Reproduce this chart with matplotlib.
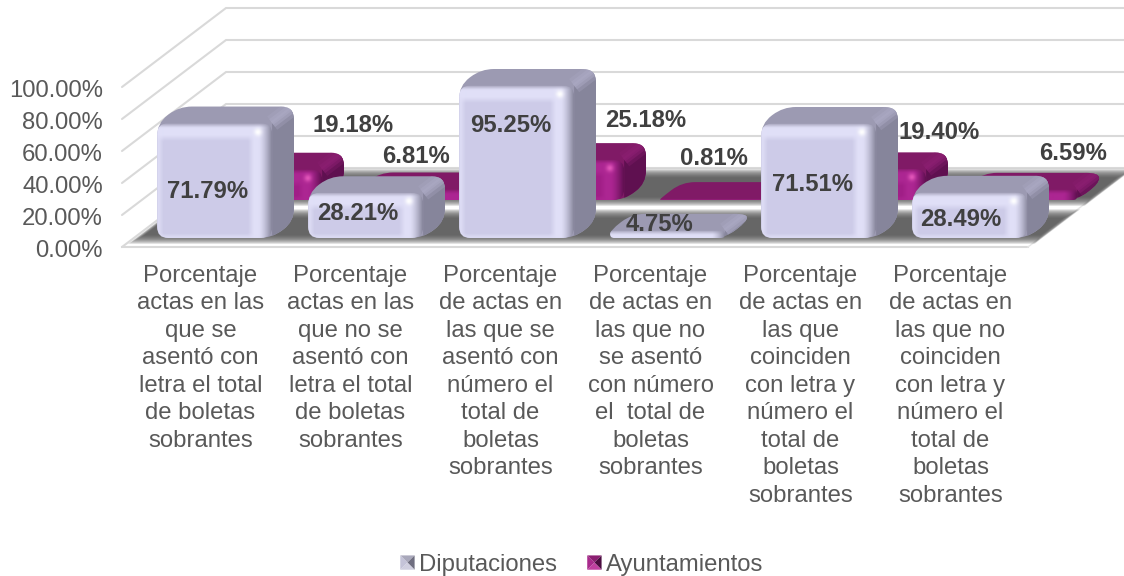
import numpy as np
import matplotlib
matplotlib.use("Agg")
import matplotlib.pyplot as plt
from matplotlib.patches import PathPatch, Polygon, Patch
from matplotlib.path import Path
from matplotlib.legend_handler import HandlerBase

plt.rcParams["font.family"] = ["Liberation Sans", "DejaVu Sans"]

categorias = [
    "Porcentaje\nactas en las\nque se\nasentó con\nletra el total\nde boletas\nsobrantes",
    "Porcentaje\nactas en las\nque no se\nasentó con\nletra el total\nde boletas\nsobrantes",
    "Porcentaje\nde actas en\nlas que se\nasentó con\nnúmero el\ntotal de\nboletas\nsobrantes",
    "Porcentaje\nde actas en\nlas que no\nse asentó\ncon número\nel  total de\nboletas\nsobrantes",
    "Porcentaje\nde actas en\nlas que\ncoinciden\ncon letra y\nnúmero el\ntotal de\nboletas\nsobrantes",
    "Porcentaje\nde actas en\nlas que no\ncoinciden\ncon letra y\nnúmero el\ntotal de\nboletas\nsobrantes",
]
diputaciones = [71.79, 28.21, 95.25, 4.75, 71.51, 28.49]
ayuntamientos = [19.18, 6.81, 25.18, 0.81, 19.40, 6.59]
ticks_y = [0, 20, 40, 60, 80, 100]

# pixels per unit on the fake 3D box
PX_X = 151.0
PX_Y = 1.6
X0 = 122.0
Y0 = 247.0
DX = 104.0 / PX_X
DY = 79.0 / PX_Y

ANCHO = 115.0 / PX_X
FONDO = 0.21
D_FRENTE = 0.114
D_ATRAS = 0.595
CORRIMIENTO = 0.035

# offset in pixels of each value label from the front top of its bar
off_dip = [(-7, -68), (-8, -21), (-6, -40), (-8, 6), (-6, -61), (-9, -27)]
off_ayu = [(88, 44), (0, 33), (79, 39), (-4, 40), (70, 36), (53, 36)]

GRIS = "#595959"
OSCURO = "#404040"

paleta_dip = dict(base=(205, 203, 232), luz=(224, 223, 247), borde=(134, 133, 155),
                  punto=(255, 255, 255), tapa="#9c9ab2", lado="#86859b", filo="#aba9c3")
paleta_ayu = dict(base=(160, 30, 135), luz=(172, 38, 146), borde=(95, 16, 80),
                  punto=(225, 85, 185), tapa="#801a66", lado="#5f1050", filo="#8c1f72")


def proyecta(x, v, d):
    return x + d * DX, v + d * DY


def redondeado(puntos, radio):
    # closed path with rounded corners, radius in pixels
    pts = np.array(puntos, dtype=float) * [PX_X, PX_Y]
    n = len(pts)
    verts = []
    codes = []
    for i in range(n):
        p = pts[i]
        a = pts[i - 1]
        b = pts[(i + 1) % n]
        la = np.hypot(*(a - p))
        lb = np.hypot(*(b - p))
        ra = min(radio, la / 2)
        rb = min(radio, lb / 2)
        ini = p + (a - p) / la * ra
        fin = p + (b - p) / lb * rb
        verts.append(ini)
        codes.append(Path.MOVETO if i == 0 else Path.LINETO)
        verts += [p, fin]
        codes += [Path.CURVE3, Path.CURVE3]
    verts.append(verts[0])
    codes.append(Path.CLOSEPOLY)
    return Path(np.array(verts) / [PX_X, PX_Y], codes)


def imagen_cara(ancho_px, alto_px, paleta):
    w = max(int(ancho_px), 2)
    h = max(int(alto_px) + 1, 2)
    xx, yy = np.meshgrid(np.arange(w) + 0.5, np.arange(h) + 0.5)
    der = w - xx
    arr = h - yy  # row 0 is the bottom, origin lower
    izq = xx
    img = np.ones((h, w, 3)) * np.array(paleta["base"], dtype=float)
    luz = np.array(paleta["luz"], dtype=float)
    borde = np.array(paleta["borde"], dtype=float)
    tapa = np.array(matplotlib.colors.to_rgb(paleta["tapa"])) * 255

    def mezcla(color, peso):
        nonlocal img
        img = img * (1 - peso[..., None]) + color * peso[..., None]

    mezcla(luz, np.clip((18 - arr) / 6, 0, 1))
    mezcla(luz, np.clip((24 - der) / 6, 0, 1))
    mezcla(luz, np.clip((7 - izq) / 6, 0, 0.8))
    mezcla(luz, np.clip((5 - yy) / 5, 0, 0.8))
    mezcla(borde, np.clip((13 - der) / 13, 0, 1) ** 1.4)
    mezcla(tapa, np.clip((5 - arr) / 5, 0, 1) ** 1.3)
    if h > 24:
        punto = np.exp(-(((der - 14) ** 2 + (arr - 9) ** 2) / 14.0))
        mezcla(np.array(paleta["punto"], dtype=float), punto)
    return img.clip(0, 255).astype(np.uint8)


def barra(ax, x, valor, d0, paleta, z):
    x0 = x - ANCHO / 2
    x1 = x + ANCHO / 2
    d1 = d0 + FONDO
    h = valor
    contorno = [proyecta(x0, 0, d0), proyecta(x0, h, d0), proyecta(x0, h, d1),
                proyecta(x1, h, d1), proyecta(x1, 0, d1), proyecta(x1, 0, d0)]
    ruta = redondeado(contorno, 13)
    silueta = PathPatch(ruta, fc=paleta["tapa"], ec="none", zorder=z)
    ax.add_patch(silueta)

    lado = Polygon([proyecta(x1, h, d0), proyecta(x1, h, d1),
                    proyecta(x1, 0, d1), proyecta(x1, 0, d0)],
                   fc=paleta["lado"], ec="none", zorder=z + 0.1)
    ax.add_patch(lado)
    lado.set_clip_path(silueta)

    filo_x, filo_y = zip(proyecta(x1, h, d0), proyecta(x1, h, d1))
    for grosor, alfa in [(12, 0.3), (7, 0.5), (3, 0.6)]:
        filo, = ax.plot(filo_x, filo_y, color=paleta["filo"], lw=grosor, alpha=alfa,
                        zorder=z + 0.2, solid_capstyle="butt")
        filo.set_clip_path(silueta)

    fx0, v0 = proyecta(x0, 0, d0)
    fx1, v1 = proyecta(x1, h, d0)
    cara = redondeado([(fx0, v0), (fx0, v1), (fx1, v1), (fx1, v0)], 11 if h > 12 else 4)
    clip = PathPatch(cara, fc="none", ec="none", transform=ax.transData)
    ax.add_patch(clip)
    img = imagen_cara((fx1 - fx0) * PX_X, (v1 - v0) * PX_Y, paleta)
    im = ax.imshow(img, origin="lower", extent=(fx0, fx1, v0, v1), aspect="auto",
                   interpolation="bilinear", zorder=z + 0.3)
    im.set_clip_path(clip)


def sombra(ax, d0, d1, x_fin):
    # soft floor shadow from stacked translucent polygons
    pasos = 12
    for i in range(pasos):
        m = 0.055 - i * 0.01
        esquinas = [proyecta(0.03 - m * 0.3, 0, d0 - m), proyecta(x_fin + m * 0.3, 0, d0 - m),
                    proyecta(x_fin + m * 0.3, 0, d1 + m), proyecta(0.03 - m * 0.3, 0, d1 + m)]
        ax.add_patch(Polygon(esquinas, fc="#4d4d4d", ec="none", alpha=0.14, zorder=2))


class HandlerPiramide(HandlerBase):
    def create_artists(self, legend, orig, xd, yd, width, height, fontsize, trans):
        lado = min(width, height * 1.25)
        x0 = xd * -1
        y0 = -yd + (height - lado) / 2
        c = (x0 + lado / 2, y0 + lado / 2)
        a, b = (x0, y0), (x0 + lado, y0)
        e, f = (x0 + lado, y0 + lado), (x0, y0 + lado)
        tonos = orig.get_gid().split(",")
        caras = [[f, e, c], [e, b, c], [b, a, c], [a, f, c]]
        return [Polygon(cara, fc=t, ec="none", transform=trans) for cara, t in zip(caras, tonos)]


fig = plt.figure(figsize=(11.24, 5.76), dpi=100)
ax = fig.add_axes([0, 0, 1, 1])

# back wall and side gridlines
for t in ticks_y:
    xs = [0, 0 + DX, 1124 / PX_X]
    ys = [t, t + DY, t + DY]
    ax.plot(np.array(xs), ys, color="#d9d9d9", lw=1.5, zorder=1, solid_capstyle="round")
ax.plot([0, 6], [0, 0], color="#d9d9d9", lw=1.5, zorder=1)
ax.plot([6, 6 + DX], [0, DY], color="#e6e6e6", lw=1.0, zorder=1)

sombra(ax, D_ATRAS - 0.02, D_ATRAS + FONDO + 0.13, 6)
sombra(ax, D_FRENTE - 0.02, D_FRENTE + FONDO + 0.1, 6)

centros = np.arange(len(categorias)) + 0.5 + CORRIMIENTO
for i, v in enumerate(ayuntamientos):
    barra(ax, centros[i], v, D_ATRAS, paleta_ayu, 3 + i * 0.01)
for i, v in enumerate(diputaciones):
    barra(ax, centros[i], v, D_FRENTE, paleta_dip, 4 + i * 0.01)

# value labels
for i, v in enumerate(ayuntamientos):
    ax.annotate(f"{v:.2f}%", proyecta(centros[i], v, D_ATRAS), xytext=off_ayu[i],
                textcoords="offset pixels", ha="center", va="center", fontsize=17.2,
                fontweight="bold", color=OSCURO, zorder=6)
for i, v in enumerate(diputaciones):
    ax.annotate(f"{v:.2f}%", proyecta(centros[i], v, D_FRENTE), xytext=off_dip[i],
                textcoords="offset pixels", ha="center", va="center", fontsize=17.2,
                fontweight="bold", color=OSCURO, zorder=6)

# axis text
for t in ticks_y:
    ax.annotate(f"{t:.2f}%", (0, t), xytext=(-19, -4), textcoords="offset pixels",
                ha="right", va="center", fontsize=17.2, color=GRIS)
for i, c in enumerate(categorias):
    ax.annotate(c, (i + 0.5, 0), xytext=(3 - i, -18), textcoords="offset pixels",
                ha="center", va="top", fontsize=17.2, color=GRIS, linespacing=1.32)

ax.set_xlim(-X0 / PX_X, (1124 - X0) / PX_X)
ax.set_ylim((Y0 - 576) / PX_Y, Y0 / PX_Y)
ax.axis("off")

h_dip = Patch(label="Diputaciones", gid="#a9a8bb,#6f6e80,#d0cfe0,#c4c3d8")
h_ayu = Patch(label="Ayuntamientos", gid="#8c1f72,#4a0c40,#c040a0,#a82a8c")
ax.legend(handles=[h_dip, h_ayu], handler_map={Patch: HandlerPiramide()},
          loc="center", bbox_to_anchor=(582 / 1124, 1 - 565 / 576), ncol=2, frameon=False,
          fontsize=17.2, labelcolor=GRIS, handlelength=0.6, handleheight=0.6,
          handletextpad=0.2, columnspacing=1.25, borderpad=0, borderaxespad=0)

fig.savefig("out.png", dpi=100)
